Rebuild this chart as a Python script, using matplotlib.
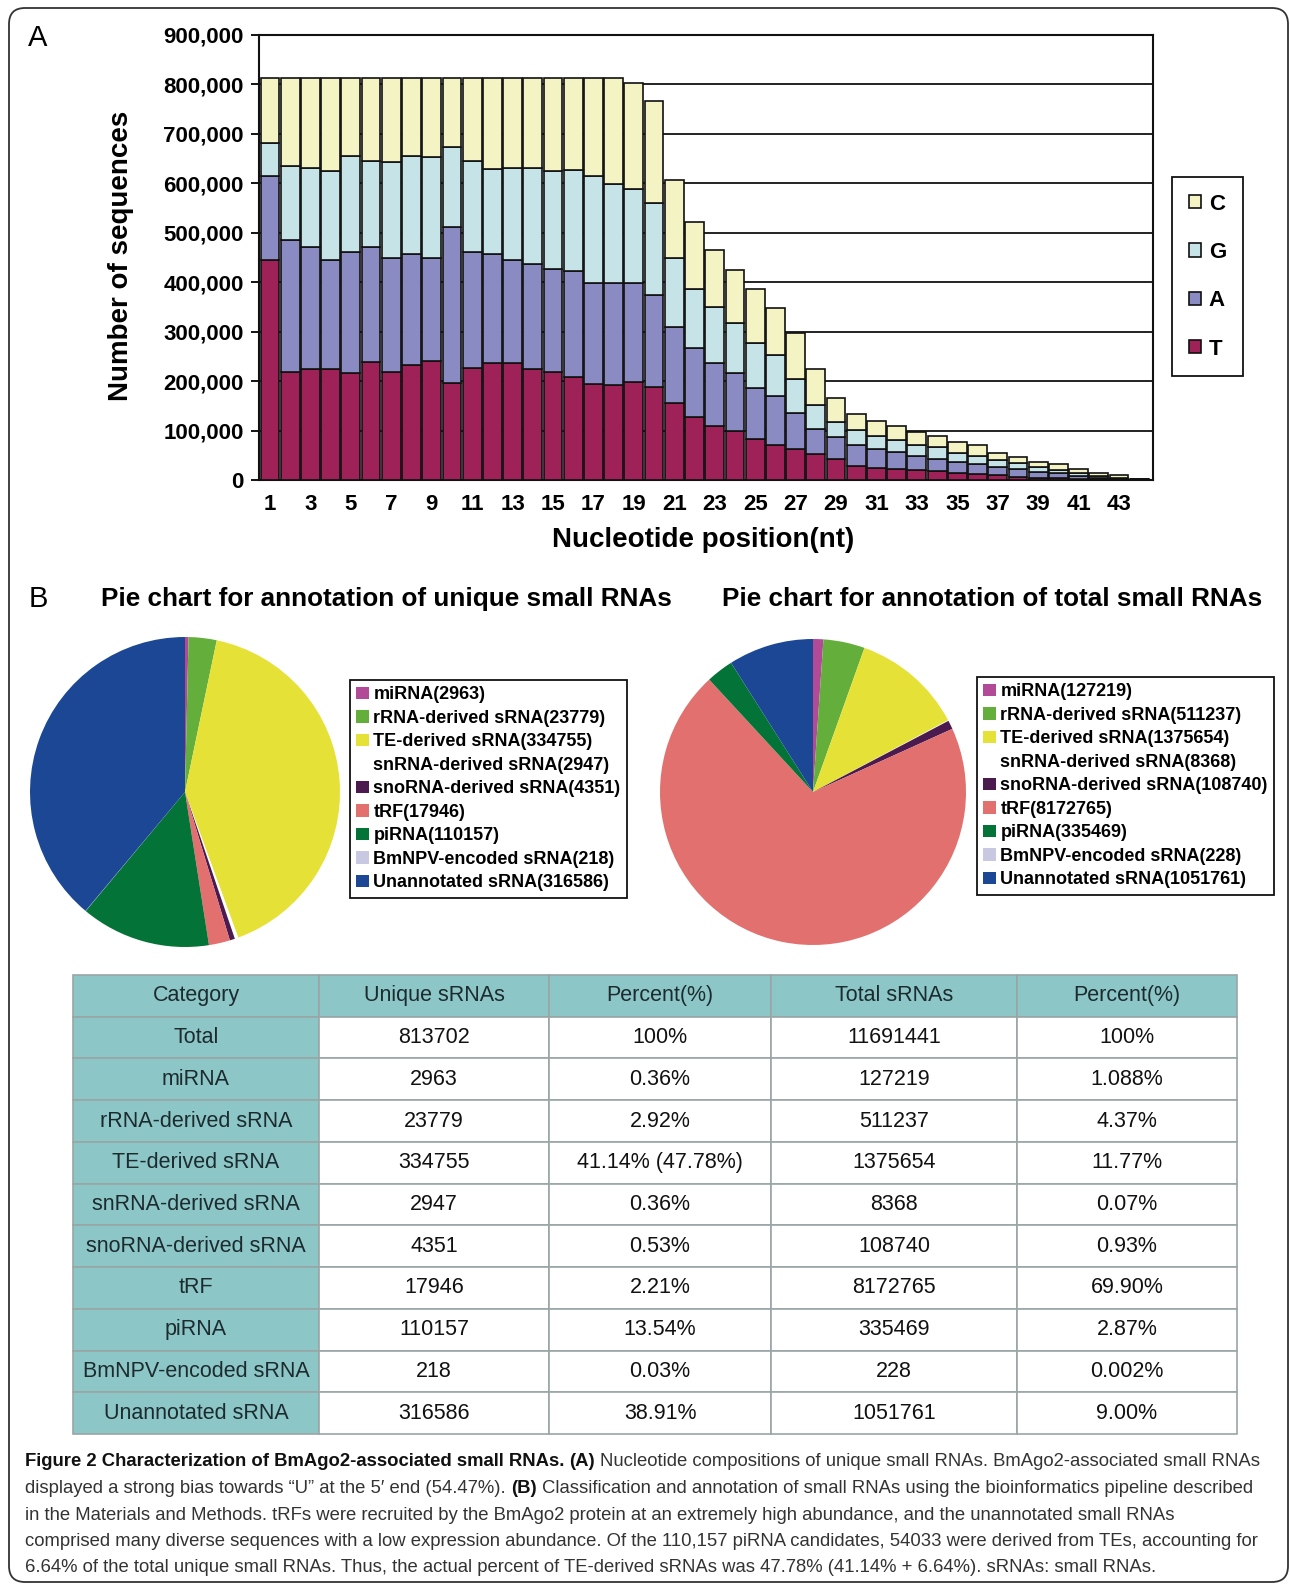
import numpy as np
import matplotlib
matplotlib.use('Agg')
import matplotlib.pyplot as plt
from matplotlib.patches import FancyBboxPatch
from matplotlib.transforms import IdentityTransform

W, H = 1290, 1584
plt.rcParams['font.family'] = ['Liberation Sans', 'DejaVu Sans']

# ---- panel A: nucleotide composition per position
positions = np.arange(1, 45)
t_k = [445, 219, 224, 224, 216, 239, 219, 233, 241, 196, 226, 236, 236, 224, 219,
       209, 194, 192, 199, 189, 155, 128, 109, 100, 82, 70, 62, 53, 42, 28, 24, 22,
       20, 19, 15, 12, 10, 7, 5, 4, 3, 2, 1.5, 1]
a_k = [169, 267, 248, 221, 246, 232, 231, 224, 209, 315, 236, 221, 209, 213, 208,
       214, 205, 207, 200, 185, 155, 138, 127, 116, 104, 99, 73, 50, 44, 43, 39, 34,
       29, 23, 22, 20, 17, 15, 12, 9.5, 6, 3, 1.5, 0.5]
g_k = [67, 150, 160, 180, 193, 175, 194, 198, 203, 162, 184, 171, 187, 195, 198,
       204, 215, 200, 190, 187, 138, 120, 114, 102, 91, 83, 70, 48, 32, 30, 26, 25,
       22, 24, 18, 17, 14, 12, 10, 6.5, 4.5, 3, 2, 0.5]
c_k = [133, 178, 182, 189, 159, 168, 170, 159, 161, 141, 168, 186, 182, 182, 189,
       187, 200, 215, 213, 206, 158, 136, 116, 106, 110, 95, 92, 74, 48, 33, 31, 28,
       27, 24, 21, 21, 14, 12, 10, 12, 8.5, 7, 5, 1]
bases = ['T', 'A', 'G', 'C']
base_colors = ['#9E2158', '#8B8BC4', '#C6E4E8', '#F4F3C4']
base_counts = [np.array(v) * 1000 for v in (t_k, a_k, g_k, c_k)]
y_ticks = np.arange(0, 900001, 100000)

# ---- panel B: annotation
categories = ['miRNA', 'rRNA-derived sRNA', 'TE-derived sRNA', 'snRNA-derived sRNA',
              'snoRNA-derived sRNA', 'tRF', 'piRNA', 'BmNPV-encoded sRNA',
              'Unannotated sRNA']
unique_counts = [2963, 23779, 334755, 2947, 4351, 17946, 110157, 218, 316586]
total_counts = [127219, 511237, 1375654, 8368, 108740, 8172765, 335469, 228, 1051761]
unique_pct = ['0.36%', '2.92%', '41.14% (47.78%)', '0.36%', '0.53%', '2.21%',
              '13.54%', '0.03%', '38.91%']
total_pct = ['1.088%', '4.37%', '11.77%', '0.07%', '0.93%', '69.90%', '2.87%',
             '0.002%', '9.00%']
unique_sum = 813702
total_sum = 11691441
pie_colors = ['#B24A97', '#64AF3C', '#E6E137', '#FFFFFF', '#4B1B4F', '#E2706F',
              '#047338', '#C8C8E3', '#1B4795']
table_header = ['Category', 'Unique sRNAs', 'Percent(%)', 'Total sRNAs', 'Percent(%)']

fig = plt.figure(figsize=(W / 100, H / 100), dpi=100)


def fx(px):
    return px / W


def fy(py):
    return 1 - py / H


# outer frame
fig.add_artist(FancyBboxPatch((9, H - 1582), 1279, 1574,
                              boxstyle='round,pad=0,rounding_size=16',
                              transform=IdentityTransform(), facecolor='none',
                              edgecolor='#333333', linewidth=1.3))

# ---- bar chart
ax = fig.add_axes([fx(259), fy(480), (1153 - 259) / W, (480 - 35) / H])
bottom = np.zeros(len(positions))
bars = []
for name, col, vals in zip(bases, base_colors, base_counts):
    b = ax.bar(positions, vals, bottom=bottom, width=0.93, color=col,
               edgecolor='#111111', linewidth=1.2, label=name, zorder=3)
    bars.append(b)
    bottom = bottom + vals
ax.set_xlim(0.455, 44.68)
ax.set_ylim(0, 900000)
ax.set_yticks(y_ticks, labels=[f'{v:,}' for v in y_ticks], fontweight='bold',
              fontsize=16)
ax.set_xticks(positions[::2], labels=[str(p) for p in positions[::2]],
              fontweight='bold', fontsize=16)
ax.tick_params(axis='x', length=0, pad=10)
ax.tick_params(axis='y', length=6, width=1.3, pad=5)
ax.grid(axis='y', color='#111111', linewidth=1.3, zorder=0)
ax.set_axisbelow(True)
for s in ax.spines.values():
    s.set_linewidth(1.5)
    s.set_color('#111111')

fig.text(fx(121), fy(256), 'Number of sequences', rotation=90, ha='center',
         va='center', fontsize=20, fontweight='bold')
fig.text(fx(703), fy(540), 'Nucleotide position(nt)', ha='center', va='center',
         fontsize=20, fontweight='bold')
fig.text(fx(38), fy(38), 'A', ha='center', va='center', fontsize=21)

leg = fig.legend(handles=bars[::-1], labels=bases[::-1], loc='upper left',
                 bbox_to_anchor=(fx(1172), fy(177)), borderaxespad=0,
                 prop={'weight': 'bold', 'size': 16}, handlelength=0.55,
                 handleheight=0.55, handletextpad=0.35, labelspacing=1.23,
                 borderpad=0.75, fancybox=False, framealpha=1)
leg.get_frame().set_edgecolor('#111111')
leg.get_frame().set_linewidth(1.3)

# ---- pies
fig.text(fx(38), fy(599), 'B', ha='center', va='center', fontsize=21)
fig.text(fx(386), fy(599), 'Pie chart for annotation of unique small RNAs',
         ha='center', va='center', fontsize=18.8, fontweight='bold')
fig.text(fx(992), fy(599), 'Pie chart for annotation of total small RNAs',
         ha='center', va='center', fontsize=18.8, fontweight='bold')

pie_specs = [
    (185, 792, 155, unique_counts, (350, 680)),
    (813, 792, 153, total_counts, (977, 677)),
]
for cx, cy, r, counts, (lx, ly) in pie_specs:
    pax = fig.add_axes([fx(cx - r), fy(cy + r), 2 * r / W, 2 * r / H])
    wedges, _ = pax.pie(counts, colors=pie_colors, startangle=90,
                        counterclock=False)
    pax.set_xlim(-1, 1)
    pax.set_ylim(-1, 1)
    labels = [f'{c}({n})' for c, n in zip(categories, counts)]
    lg = fig.legend(handles=wedges, labels=labels, loc='upper left',
                    bbox_to_anchor=(fx(lx), fy(ly)), borderaxespad=0,
                    prop={'weight': 'bold', 'size': 13}, handlelength=0.7,
                    handleheight=0.7, handletextpad=0.25, labelspacing=0.36,
                    borderpad=0.35, fancybox=False, framealpha=1)
    lg.get_frame().set_edgecolor('#111111')
    lg.get_frame().set_linewidth(1.3)

# ---- table
tax = fig.add_axes([fx(73), fy(1434), (1237 - 73) / W, (1434 - 975) / H])
tax.axis('off')
rows = [['Total', str(unique_sum), '100%', str(total_sum), '100%']]
for i, cat in enumerate(categories):
    rows.append([cat, str(unique_counts[i]), unique_pct[i], str(total_counts[i]),
                 total_pct[i]])
col_px = np.array([246, 230, 222, 246, 220])
tbl = tax.table(cellText=rows, colLabels=table_header,
                colWidths=list(col_px / col_px.sum()), cellLoc='center',
                bbox=[0, 0, 1, 1])
tbl.auto_set_font_size(False)
tbl.set_fontsize(15.5)
teal = '#8DC6C7'
for (r, c), cell in tbl.get_celld().items():
    cell.set_edgecolor('#9AA6A6')
    cell.set_linewidth(1.2)
    if r == 0 or c == 0:
        cell.set_facecolor(teal)
        cell.get_text().set_color('#1C2B2E')
    else:
        cell.set_facecolor('white')
        cell.get_text().set_color('#111111')

# ---- caption
caption = [
    [('Figure 2 Characterization of BmAgo2-associated small RNAs.', 'bold'),
     ('(A)', 'bold'),
     ('Nucleotide compositions of unique small RNAs. BmAgo2-associated small RNAs', 'normal')],
    [('displayed a strong bias towards \u201cU\u201d at the 5\u2032 end (54.47%).', 'normal'),
     ('(B)', 'bold'),
     ('Classification and annotation of small RNAs using the bioinformatics pipeline described', 'normal')],
    [('in the Materials and Methods. tRFs were recruited by the BmAgo2 protein at an extremely '
      'high abundance, and the unannotated small RNAs', 'normal')],
    [('comprised many diverse sequences with a low expression abundance. Of the 110,157 piRNA '
      'candidates, 54033 were derived from TEs, accounting for', 'normal')],
    [('6.64% of the total unique small RNAs. Thus, the actual percent of TE-derived sRNAs was '
      '47.78% (41.14% + 6.64%). sRNAs: small RNAs.', 'normal')],
]
cap_family = ['Liberation Sans Narrow', 'Liberation Sans', 'DejaVu Sans']
renderer = fig.canvas.get_renderer()


def text_width(s, size, weight):
    t = fig.text(0, 0, s, fontsize=size, fontweight=weight, family=cap_family)
    w = t.get_window_extent(renderer).width
    t.remove()
    return w


def line_width(runs, size):
    sp = text_width('x x', size, 'normal') - text_width('xx', size, 'normal')
    return sum(text_width(s, size, w) for s, w in runs) + sp * (len(runs) - 1)


size = 14 * 1245 / line_width(caption[0], 14)
space = text_width('x x', size, 'normal') - text_width('xx', size, 'normal')
for i, runs in enumerate(caption):
    x = 25
    ypos = 1462 + i * 26.5
    for s, w in runs:
        t = fig.text(fx(x), fy(ypos), s, fontsize=size, fontweight=w,
                     family=cap_family, ha='left', va='center',
                     color='#111111' if w == 'bold' else '#333333')
        x = t.get_window_extent(renderer).x1 + space

fig.savefig('out.png', dpi=100)
